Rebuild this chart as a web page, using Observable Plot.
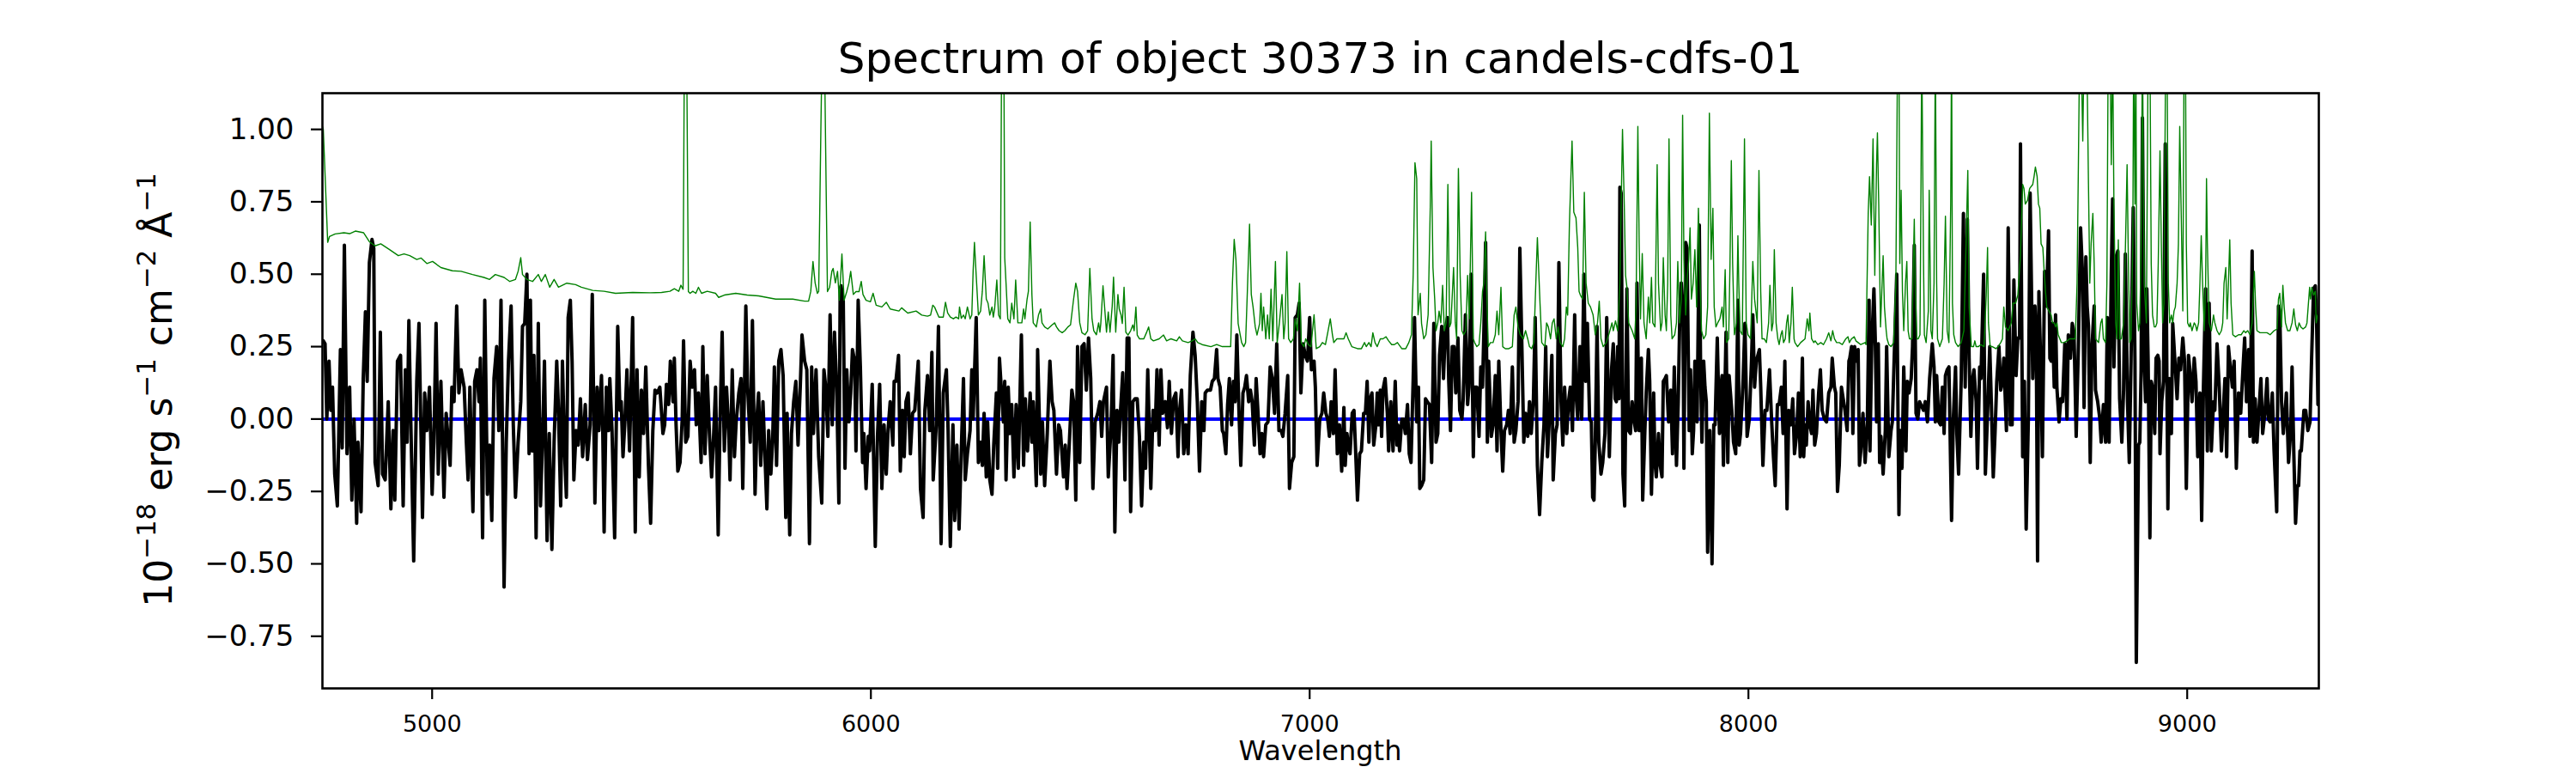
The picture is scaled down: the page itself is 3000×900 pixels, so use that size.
<!DOCTYPE html>
<html>
<head>
<meta charset="utf-8">
<script src="https://cdn.jsdelivr.net/npm/d3@7"></script>
<script src="https://cdn.jsdelivr.net/npm/@observablehq/plot@0.6"></script>
<style>
html,body{margin:0;padding:0;background:#fff;}
#wrap{position:relative;width:3000px;height:900px;font-family:"DejaVu Sans",sans-serif;color:#000;}
#chart{position:absolute;left:0;top:0;}
#title{position:absolute;left:1537.5px;top:43px;transform:translateX(-50%);font-size:50px;line-height:50px;white-space:nowrap;}
#xlabel{position:absolute;left:1537.5px;top:862px;transform:translateX(-50%);font-size:32px;line-height:24px;white-space:nowrap;}
#ylabel{position:absolute;left:185px;top:454px;transform:translate(-50%,-50%) rotate(-90deg);font-size:44px;line-height:44px;white-space:nowrap;}
#ylabel .sup{font-size:0.7em;vertical-align:19px;line-height:0;}
</style>
</head>
<body>
<div id="wrap">
<div id="chart"></div>
<div id="title">Spectrum of object 30373 in candels-cdfs-01</div>
<div id="ylabel">10<span class="sup">−18</span> erg s<span class="sup">−1</span> cm<span class="sup">−2</span> Å<span class="sup">−1</span></div>
<div id="xlabel">Wavelength</div>
</div>
<script>
const xTicks = [5000, 6000, 7000, 8000, 9000];
const yTicks = [-0.75, -0.5, -0.25, 0, 0.25, 0.5, 0.75, 1.0];
const xDomain = [4750, 9300];
const yDomain = [-0.93, 1.125];
const zeroLevel = [0];

// [wavelength, flux] (black)
const fluxSpectrum = [
[4750,0.27],[4752,0.27],[4756,0.26],[4760,0.00],[4765,0.20],[4769,0.03],[4773,0.11],[4778,-0.19],[4784,-0.30],[4791,0.24],[4795,-0.10],[4800,0.60],[4804,0.11],[4806,-0.12],[4812,0.11],[4817,-0.28],[4822,0.00],[4828,-0.36],[4831,-0.08],[4838,-0.32],[4843,0.14],[4848,0.37],[4852,0.13],[4857,0.54],[4863,0.62],[4867,0.59],[4870,-0.15],[4877,-0.23],[4882,0.30],[4887,-0.19],[4893,-0.21],[4900,0.06],[4906,-0.31],[4911,-0.04],[4915,-0.28],[4921,0.20],[4928,0.22],[4934,-0.30],[4939,0.17],[4943,-0.08],[4947,0.34],[4952,-0.05],[4958,-0.49],[4965,0.13],[4970,0.33],[4975,-0.08],[4978,-0.34],[4983,0.09],[4988,-0.04],[4994,0.11],[5000,-0.26],[5004,-0.08],[5009,0.33],[5014,-0.19],[5020,0.13],[5027,-0.27],[5032,0.02],[5037,-0.08],[5041,-0.16],[5045,0.11],[5050,0.06],[5056,0.39],[5061,0.09],[5066,0.17],[5073,0.11],[5078,-0.08],[5082,-0.21],[5086,0.11],[5093,-0.32],[5097,0.13],[5102,0.17],[5107,0.06],[5110,0.21],[5115,-0.41],[5120,0.41],[5126,-0.26],[5131,-0.09],[5136,-0.35],[5141,0.14],[5147,0.25],[5152,-0.04],[5157,0.41],[5164,-0.58],[5169,-0.08],[5174,0.20],[5180,0.39],[5185,-0.02],[5190,-0.27],[5196,-0.08],[5202,0.06],[5206,0.32],[5211,0.33],[5216,0.50],[5221,-0.12],[5224,0.41],[5228,-0.11],[5232,0.22],[5237,-0.41],[5242,0.33],[5247,-0.30],[5252,-0.05],[5256,0.20],[5262,-0.42],[5267,-0.05],[5273,-0.45],[5278,-0.08],[5284,0.20],[5288,0.03],[5293,-0.30],[5297,0.20],[5302,-0.12],[5306,-0.27],[5310,0.35],[5315,0.41],[5319,0.20],[5323,-0.21],[5328,-0.04],[5333,-0.09],[5338,0.07],[5343,-0.13],[5349,0.05],[5354,-0.14],
[5360,-0.02],[5365,0.43],[5371,-0.29],[5376,0.11],[5380,-0.04],[5386,0.15],[5389,-0.05],[5392,-0.39],[5397,0.11],[5402,-0.04],[5405,0.14],[5410,-0.04],[5416,-0.41],[5423,0.32],[5428,0.03],[5431,0.06],[5435,-0.13],[5439,-0.02],[5444,0.17],[5450,-0.11],[5457,0.35],[5463,-0.39],[5467,0.17],[5472,-0.20],[5477,0.10],[5482,-0.05],[5487,0.18],[5493,-0.16],[5498,-0.36],[5503,-0.04],[5508,0.10],[5513,0.09],[5519,0.11],[5526,-0.05],[5530,-0.02],[5534,0.12],[5539,0.05],[5543,0.20],[5549,0.06],[5552,0.21],[5556,-0.02],[5560,-0.18],[5565,-0.15],[5570,0.00],[5573,0.27],[5578,-0.08],[5583,-0.06],[5588,0.20],[5593,0.11],[5598,0.17],[5602,-0.02],[5607,0.09],[5613,-0.15],[5617,0.25],[5622,-0.12],[5627,0.15],[5632,-0.05],[5637,-0.20],[5641,-0.08],[5646,0.11],[5652,-0.40],[5656,-0.02],[5661,0.30],[5666,-0.11],[5671,0.11],[5676,-0.04],[5679,-0.21],[5684,0.17],[5689,-0.13],[5693,-0.01],[5699,0.09],[5704,0.14],[5708,-0.24],[5715,0.39],[5719,0.11],[5725,-0.08],[5730,0.34],[5736,-0.26],[5741,0.02],[5744,0.09],[5749,-0.16],[5754,0.06],[5763,-0.31],[5767,-0.04],[5772,-0.19],[5776,-0.08],[5780,0.18],[5785,-0.16],[5790,0.20],[5795,0.24],[5800,0.15],[5806,-0.34],[5809,0.02],[5815,-0.40],[5819,-0.05],[5824,0.06],[5829,0.13],[5834,-0.09],[5839,0.11],[5843,0.29],[5849,0.20],[5854,0.17],[5860,-0.43],[5865,0.18],[5869,-0.05],[5875,0.17],[5881,-0.13],[5888,-0.29],[5893,0.17],[5897,0.11],[5902,-0.06],[5907,0.36],[5912,-0.02],[5917,0.30],[5922,0.11],[5927,-0.29],[5930,0.45],
[5932,0.46],[5937,0.41],[5941,-0.17],[5945,0.17],[5950,-0.01],[5954,0.09],[5958,0.24],[5963,0.20],[5966,-0.11],[5971,0.41],[5976,0.18],[5981,-0.15],[5984,-0.05],[5989,-0.24],[5994,-0.06],[5997,-0.11],[6003,0.12],[6010,-0.44],[6015,-0.06],[6020,0.12],[6025,-0.24],[6030,-0.02],[6035,-0.19],[6039,-0.04],[6044,0.06],[6050,-0.09],[6053,0.13],[6057,0.13],[6063,0.22],[6067,-0.18],[6072,0.03],[6076,-0.13],[6080,0.06],[6085,0.09],[6090,-0.12],[6095,0.02],[6100,0.03],[6108,0.20],[6113,-0.24],[6119,-0.34],[6123,0.03],[6129,0.15],[6134,-0.04],[6139,0.23],[6142,-0.21],[6149,-0.02],[6154,0.32],[6160,-0.43],[6165,0.09],[6172,0.17],[6176,-0.04],[6181,-0.44],[6187,-0.02],[6191,-0.35],[6196,-0.09],[6201,-0.38],[6206,-0.11],[6211,0.14],[6215,-0.21],[6220,-0.12],[6226,-0.04],[6230,0.17],[6233,0.00],[6240,0.35],[6245,-0.15],[6250,-0.08],[6254,-0.16],[6258,0.02],[6263,-0.20],[6266,-0.01],[6271,-0.21],[6276,-0.26],[6280,-0.09],[6286,0.09],[6289,-0.17],[6293,0.21],[6297,0.11],[6302,-0.01],[6305,0.13],[6308,-0.21],[6313,0.11],[6317,-0.05],[6321,0.05],[6326,-0.20],[6331,0.05],[6336,-0.17],[6343,0.29],[6348,-0.16],[6352,0.07],[6357,-0.11],[6363,0.09],[6367,-0.08],[6370,0.06],[6377,-0.23],[6380,0.24],[6387,-0.19],[6391,-0.01],[6396,-0.23],[6402,-0.05],[6408,0.20],[6413,0.06],[6417,0.03],[6423,-0.19],[6428,-0.02],[6432,-0.04],[6439,-0.20],[6443,-0.09],[6447,-0.24],[6452,-0.09],[6458,0.10],[6462,0.06],[6467,-0.28],[6471,0.25],[6476,-0.15],[6481,0.25],[6486,0.26],[6491,0.10],[6496,0.28],[6501,0.14],[6506,-0.24],[6511,-0.01],[6517,0.02],
[6522,0.06],[6526,-0.06],[6530,0.06],[6537,0.11],[6541,-0.20],[6547,-0.04],[6552,0.22],[6556,-0.39],[6561,0.03],[6565,-0.08],[6569,0.03],[6574,0.16],[6579,-0.21],[6584,0.28],[6588,0.28],[6592,-0.32],[6597,0.06],[6602,0.07],[6607,0.07],[6612,-0.06],[6617,-0.30],[6622,-0.08],[6626,-0.17],[6631,0.17],[6638,-0.24],[6643,0.03],[6648,-0.04],[6652,0.17],[6657,-0.09],[6661,0.17],[6665,0.02],[6671,0.06],[6676,-0.03],[6680,0.13],[6685,-0.05],[6690,0.07],[6695,0.09],[6700,-0.13],[6703,0.02],[6708,0.10],[6713,-0.12],[6718,-0.02],[6723,-0.12],[6728,0.15],[6734,0.30],[6739,0.22],[6744,0.06],[6749,-0.18],[6754,0.06],[6759,-0.04],[6762,0.09],[6767,0.10],[6774,0.10],[6778,0.13],[6783,0.14],[6788,0.24],[6791,0.14],[6796,0.11],[6801,-0.04],[6804,-0.05],[6809,-0.12],[6813,0.05],[6817,0.14],[6822,-0.02],[6826,0.13],[6830,0.06],[6834,0.29],[6839,0.02],[6843,-0.16],[6848,0.09],[6852,0.11],[6856,0.15],[6861,0.06],[6865,0.10],[6869,0.06],[6874,-0.09],[6878,0.14],[6882,0.03],[6887,-0.12],[6891,-0.05],[6895,-0.13],[6900,-0.02],[6905,-0.01],[6910,0.18],[6915,0.14],[6920,0.02],[6925,0.26],[6930,-0.04],[6935,-0.04],[6939,-0.06],[6944,0.02],[6950,0.15],[6954,-0.24],[6959,-0.15],[6964,-0.13],[6967,0.35],[6972,0.36],[6976,0.40],[6980,0.09],[6985,0.26],[6990,0.22],[6995,0.20],[7000,0.35],[7004,0.17],[7010,0.20],[7013,0.11],[7017,-0.16],[7023,0.00],[7028,0.02],[7032,0.09],[7037,0.02],[7041,0.00],[7045,-0.06],[7049,0.06],[7054,-0.05],[7058,0.17],[7063,-0.12],[7068,-0.02],[7073,-0.18],[7078,0.04],[7081,-0.16],[7085,-0.05],[7088,-0.09],
[7092,-0.12],[7097,0.02],[7101,0.03],[7105,-0.12],[7109,-0.28],[7114,-0.12],[7118,-0.11],[7123,0.02],[7127,0.02],[7131,0.13],[7135,-0.08],[7138,0.07],[7142,0.09],[7146,-0.09],[7151,-0.02],[7154,0.09],[7157,-0.02],[7161,0.10],[7164,-0.06],[7167,0.10],[7172,0.14],[7177,0.02],[7180,-0.11],[7185,0.06],[7190,-0.11],[7195,0.13],[7199,-0.09],[7201,-0.02],[7205,-0.11],[7210,0.00],[7214,0.00],[7218,-0.05],[7223,0.05],[7227,-0.12],[7231,-0.15],[7236,0.14],[7239,0.35],[7244,-0.01],[7248,0.11],[7251,-0.24],[7255,-0.23],[7260,-0.21],[7264,0.07],[7268,0.06],[7273,0.05],[7278,-0.15],[7283,0.33],[7288,-0.08],[7292,-0.05],[7296,0.22],[7301,0.32],[7305,0.14],[7309,0.30],[7314,0.35],[7317,0.13],[7321,-0.04],[7325,0.25],[7329,0.25],[7333,0.09],[7338,0.28],[7342,0.03],[7347,0.00],[7350,0.07],[7355,0.36],[7360,0.05],[7363,0.11],[7368,0.50],[7373,-0.13],[7376,0.11],[7381,0.11],[7386,-0.06],[7390,0.18],[7394,0.11],[7397,0.30],[7401,0.61],[7405,-0.08],[7408,0.20],[7414,-0.06],[7418,-0.02],[7423,0.15],[7427,-0.11],[7431,0.20],[7436,-0.04],[7440,-0.18],[7444,-0.04],[7449,-0.02],[7453,0.03],[7457,-0.05],[7462,0.18],[7466,-0.08],[7470,-0.04],[7475,0.06],[7479,0.59],[7483,0.30],[7488,-0.08],[7492,0.02],[7497,-0.06],[7501,0.06],[7505,-0.05],[7510,0.07],[7514,0.35],[7519,-0.16],[7524,-0.33],[7529,-0.15],[7534,-0.02],[7538,0.25],[7542,-0.13],[7547,0.02],[7552,0.22],[7555,-0.21],[7560,-0.05],[7564,-0.02],[7568,0.54],[7573,0.06],[7577,-0.09],[7581,0.11],[7586,-0.05],[7590,0.06],[7594,0.11],[7599,-0.04],[7604,0.36],[7607,0.09],[7611,0.00],[7616,0.25],[7620,0.00],[7625,0.50],[7629,0.13],[7633,0.33],[7638,0.00],[7642,-0.01],[7645,-0.27],[7648,-0.28],[7651,-0.08],[7655,0.32],[7659,-0.08],[7664,-0.19],[7668,-0.15],[7673,-0.05],[7677,0.35],
[7683,-0.13],[7688,0.17],[7692,0.26],[7696,0.07],[7699,0.06],[7702,0.25],[7705,0.07],[7707,0.80],[7710,0.78],[7714,-0.19],[7718,-0.30],[7723,0.45],[7727,-0.04],[7731,-0.05],[7735,0.06],[7739,0.00],[7743,-0.04],[7746,0.47],[7751,-0.04],[7756,0.21],[7759,-0.28],[7764,-0.04],[7767,0.09],[7772,0.24],[7775,0.13],[7779,-0.26],[7784,0.09],[7787,-0.15],[7790,-0.20],[7795,-0.05],[7799,-0.16],[7803,-0.20],[7806,0.13],[7810,0.14],[7813,0.15],[7818,-0.01],[7823,0.10],[7827,-0.12],[7831,0.18],[7836,-0.16],[7840,0.06],[7844,0.39],[7847,0.47],[7851,0.33],[7853,-0.17],[7857,0.61],[7860,0.59],[7865,-0.04],[7868,0.17],[7872,-0.12],[7875,-0.04],[7878,0.20],[7883,-0.01],[7888,0.67],[7891,0.17],[7894,-0.08],[7898,0.20],[7901,0.11],[7904,0.06],[7907,-0.46],[7912,-0.04],[7917,-0.50],[7921,-0.02],[7924,-0.02],[7929,0.28],[7934,-0.05],[7937,0.11],[7940,0.15],[7943,-0.16],[7949,0.30],[7953,-0.15],[7956,0.15],[7962,0.03],[7966,-0.08],[7971,-0.12],[7976,0.41],[7979,-0.09],[7982,-0.05],[7988,0.14],[7992,0.33],[7997,-0.06],[8002,0.00],[8007,0.20],[8010,0.36],[8014,0.11],[8018,0.20],[8025,0.24],[8028,0.11],[8033,-0.16],[8038,0.03],[8042,0.03],[8048,0.17],[8053,-0.01],[8057,-0.13],[8061,-0.23],[8066,0.05],[8070,0.05],[8075,0.11],[8079,-0.05],[8083,0.20],[8088,-0.31],[8092,0.03],[8097,-0.02],[8101,0.07],[8105,-0.12],[8110,-0.05],[8114,0.09],[8118,-0.13],[8123,0.21],[8126,-0.13],[8129,-0.02],[8132,-0.09],[8136,0.06],[8140,-0.02],[8144,-0.05],[8147,0.10],[8151,-0.09],[8155,-0.05],[8160,0.09],[8164,0.17],[8168,0.03],[8173,0.00],[8178,-0.01],[8183,0.09],[8188,0.11],[8191,0.21],[8196,0.11],[8199,0.09],[8203,-0.25],[8207,-0.16],[8212,0.11],[8216,0.07],[8220,0.03],[8225,-0.04],[8229,0.20],[8231,0.21],[8235,0.25],[8238,-0.05],[8242,0.25],[8246,0.20],[8250,0.24],[8253,-0.16],[8256,-0.11],[8261,0.02],[8266,-0.15],[8271,-0.01],[8275,0.41],
[8277,-0.11],[8281,0.25],[8286,0.45],[8289,0.28],[8292,-0.01],[8296,0.26],[8299,-0.15],[8302,-0.06],[8307,-0.19],[8312,-0.04],[8315,0.25],[8320,-0.13],[8325,-0.04],[8328,-0.01],[8333,0.25],[8338,0.50],[8343,-0.33],[8346,-0.04],[8350,-0.17],[8354,0.18],[8359,-0.11],[8362,0.13],[8366,0.09],[8371,0.14],[8374,0.25],[8378,0.60],[8382,0.02],[8386,0.00],[8390,0.06],[8393,0.05],[8399,0.03],[8403,0.06],[8408,-0.01],[8413,0.14],[8419,0.26],[8423,0.18],[8426,-0.01],[8429,0.15],[8434,-0.01],[8438,-0.02],[8442,0.11],[8446,-0.05],[8449,0.15],[8453,0.17],[8457,0.18],[8463,-0.35],[8467,0.00],[8472,0.18],[8475,-0.05],[8479,-0.19],[8485,0.14],[8490,0.71],[8494,0.11],[8499,0.69],[8503,0.21],[8507,-0.06],[8511,0.14],[8514,0.17],[8519,0.06],[8522,-0.17],[8527,0.18],[8530,0.14],[8536,0.50],[8540,-0.19],[8545,0.02],[8550,0.25],[8553,0.09],[8558,-0.20],[8562,-0.05],[8566,0.13],[8571,0.25],[8575,0.10],[8579,0.13],[8582,0.21],[8588,-0.04],[8592,0.66],[8597,-0.02],[8601,-0.02],[8605,0.48],[8610,0.15],[8614,0.28],[8618,0.28],[8620,0.95],[8625,-0.13],[8629,0.13],[8633,-0.38],[8638,0.00],[8642,0.78],[8648,0.14],[8653,0.39],[8656,0.28],[8659,-0.49],[8662,0.44],[8666,0.20],[8670,-0.13],[8675,0.51],[8679,0.39],[8684,0.65],[8687,0.21],[8690,0.20],[8693,0.33],[8697,0.11],[8700,0.36],[8703,0.11],[8708,-0.01],[8712,0.07],[8716,0.06],[8721,0.26],[8726,0.00],[8729,0.29],[8734,0.21],[8738,0.33],[8742,0.30],[8747,-0.06],[8752,0.25],[8757,0.66],[8762,0.48],[8765,0.04],[8769,0.56],[8772,0.39],[8775,0.32],[8779,-0.15],[8783,0.25],[8788,0.39],[8791,0.10],[8796,0.06],[8801,0.00],[8804,-0.08],[8809,0.05],[8814,-0.08],[8818,0.35],[8822,-0.08],[8827,0.50],[8830,0.76],
[8833,0.18],[8838,0.56],[8842,0.58],[8846,0.07],[8851,-0.08],[8855,0.10],[8859,0.57],[8864,0.06],[8868,-0.15],[8872,0.20],[8877,0.73],[8881,0.20],[8884,-0.84],[8889,-0.09],[8892,-0.08],[8895,0.17],[8898,1.04],[8902,0.20],[8905,0.06],[8908,0.45],[8911,0.20],[8915,-0.41],[8918,0.13],[8921,0.11],[8926,-0.05],[8929,0.21],[8933,0.22],[8936,0.20],[8938,-0.12],[8942,0.06],[8946,0.13],[8950,0.95],[8953,0.29],[8956,-0.31],[8959,0.14],[8964,-0.05],[8967,0.33],[8972,0.20],[8977,0.07],[8981,0.21],[8985,0.17],[8990,0.28],[8994,0.20],[8998,-0.24],[9003,0.22],[9006,0.17],[9011,0.06],[9016,0.21],[9020,0.13],[9024,-0.13],[9029,0.09],[9033,-0.35],[9037,0.11],[9042,0.45],[9046,-0.11],[9050,0.40],[9055,-0.11],[9060,0.06],[9063,0.03],[9068,0.26],[9073,0.11],[9078,-0.11],[9083,0.05],[9086,0.14],[9090,-0.13],[9094,0.25],[9097,0.20],[9103,0.11],[9107,0.20],[9112,-0.17],[9117,0.09],[9122,0.02],[9127,0.17],[9131,0.28],[9135,0.06],[9140,0.24],[9143,-0.06],[9148,0.58],[9151,-0.08],[9155,0.07],[9159,-0.08],[9164,0.04],[9168,0.14],[9172,-0.05],[9177,0.02],[9182,0.14],[9185,0.00],[9189,-0.01],[9194,0.09],[9198,-0.11],[9204,-0.32],[9208,0.39],[9211,0.37],[9215,0.06],[9219,-0.05],[9223,0.02],[9226,0.09],[9231,-0.15],[9236,-0.04],[9239,0.18],[9243,-0.12],[9247,-0.36],[9251,-0.23],[9254,-0.23],[9257,-0.11],[9260,-0.11],[9266,0.03],[9270,0.03],[9275,-0.04],[9280,-0.01],[9283,0.18],[9288,0.45],[9292,0.46],[9295,0.33],[9298,0.05]
];

// [wavelength, noise] (green)
const noiseSpectrum = [
[4750,1.01],[4752,1.0],[4762,0.61],[4766,0.63],[4779,0.639],[4799,0.643],[4812,0.64],[4825,0.649],[4844,0.643],[4857,0.612],[4870,0.598],[4883,0.605],[4903,0.585],[4923,0.564],[4936,0.57],[4949,0.564],[4965,0.551],[4975,0.556],[4988,0.537],[5001,0.544],[5020,0.523],[5046,0.512],[5066,0.51],[5092,0.499],[5118,0.489],[5131,0.482],[5144,0.499],[5164,0.489],[5177,0.475],[5190,0.482],[5196,0.51],[5202,0.557],[5206,0.499],[5216,0.482],[5229,0.475],[5242,0.499],[5249,0.475],[5258,0.499],[5268,0.455],[5278,0.482],[5288,0.455],[5307,0.469],[5327,0.464],
[5340,0.455],[5366,0.444],[5392,0.441],[5418,0.434],[5457,0.437],[5497,0.436],[5523,0.437],[5542,0.441],[5552,0.45],[5562,0.441],[5567,0.462],[5572,0.448],[5575,1.3],[5580,1.3],[5584,0.44],[5588,0.434],[5594,0.441],[5601,0.434],[5607,0.455],[5614,0.434],[5627,0.441],[5646,0.434],[5653,0.42],[5666,0.428],[5692,0.434],[5718,0.428],[5744,0.425],[5783,0.414],[5822,0.414],[5849,0.407],[5858,0.407],[5863,0.441],[5868,0.544],[5873,0.469],[5878,0.434],[5881,0.441],[5886,1.0],[5889,1.3],[5894,1.3],[5897,0.92],[5901,0.44],[5906,0.455],[5911,0.51],
[5914,0.52],[5919,0.47],[5924,0.51],[5928,0.41],[5934,0.57],[5939,0.41],[5945,0.44],[5950,0.47],[5954,0.51],[5960,0.43],[5966,0.44],[5973,0.44],[5978,0.475],[5982,0.43],[5989,0.41],[5999,0.405],[6005,0.434],[6012,0.393],[6025,0.387],[6035,0.403],[6044,0.38],[6064,0.373],[6070,0.384],[6084,0.366],[6103,0.373],[6116,0.359],[6129,0.355],[6136,0.359],[6141,0.393],[6145,0.387],[6155,0.352],[6165,0.352],[6170,0.403],[6175,0.366],[6181,0.352],[6188,0.346],[6194,0.352],[6200,0.346],[6202,0.387],[6206,0.348],[6211,0.359],[6215,0.346],[6220,0.387],[6226,0.346],[6230,0.359],[6233,0.51],[6236,0.61],[6240,0.496],[6245,0.359],[6250,0.373],[6254,0.441],[6258,0.564],[6263,0.414],[6267,0.40],[6271,0.359],[6276,0.387],[6279,0.352],[6282,0.38],[6287,0.48],[6291,0.359],[6295,0.346],[6298,1.3],[6303,1.3],[6305,0.557],[6308,0.469],[6312,0.346],[6317,0.332],[6321,0.40],[6326,0.346],[6330,0.48],[6335,0.332],[6339,0.332],[6344,0.332],[6348,0.38],[6351,0.346],[6356,0.414],[6359,0.441],[6363,0.68],[6367,0.428],[6370,0.332],[6377,0.318],[6382,0.359],[6387,0.38],[6390,0.332],[6396,0.318],[6403,0.311],[6413,0.325],[6419,0.332],[6423,0.318],[6429,0.305],[6436,0.298],[6442,0.305],[6449,0.318],[6455,0.325],[6462,0.414],[6467,0.469],[6471,0.441],[6476,0.332],[6481,0.298],[6488,0.291],[6494,0.305],[6499,0.52],[6504,0.346],[6508,0.305],[6514,0.291],[6519,0.332],
[6522,0.30],[6524,0.33],[6529,0.46],[6537,0.30],[6541,0.37],[6545,0.30],[6550,0.39],[6553,0.49],[6558,0.30],[6563,0.43],[6566,0.38],[6570,0.36],[6573,0.33],[6577,0.455],[6581,0.30],[6586,0.29],[6592,0.305],[6597,0.325],[6600,0.305],[6604,0.387],[6607,0.29],[6612,0.277],[6622,0.277],[6628,0.298],[6633,0.318],[6638,0.277],[6644,0.27],[6657,0.277],[6667,0.29],[6674,0.27],[6684,0.277],[6697,0.27],[6703,0.284],[6710,0.27],[6723,0.264],[6732,0.27],[6739,0.277],[6745,0.264],[6755,0.257],[6775,0.25],[6788,0.257],[6801,0.25],[6820,0.25],[6824,0.47],[6828,0.62],[6832,0.55],[6837,0.33],[6840,0.305],[6845,0.264],[6850,0.25],[6854,0.264],[6858,0.44],[6863,0.673],[6867,0.43],[6871,0.387],[6876,0.318],[6880,0.29],[6886,0.33],[6889,0.434],[6892,0.305],[6895,0.387],[6900,0.277],[6904,0.359],[6908,0.277],[6912,0.448],[6916,0.27],[6922,0.544],[6926,0.264],[6931,0.332],[6937,0.43],[6941,0.277],[6944,0.332],[6948,0.578],[6952,0.277],[6957,0.264],[6963,0.277],[6967,0.346],[6972,0.305],[6977,0.469],[6981,0.264],[6987,0.25],[6991,0.277],[6997,0.257],[7003,0.25],[7010,0.36],[7015,0.243],[7023,0.25],[7029,0.264],[7036,0.257],[7042,0.305],[7047,0.346],[7052,0.29],[7055,0.264],[7062,0.277],[7071,0.277],[7078,0.277],[7083,0.298],[7088,0.277],
[7096,0.25],[7109,0.243],[7118,0.243],[7125,0.264],[7129,0.25],[7135,0.264],[7140,0.25],[7144,0.298],[7149,0.264],[7154,0.25],[7161,0.277],[7167,0.277],[7174,0.284],[7180,0.27],[7187,0.257],[7193,0.257],[7200,0.264],[7210,0.243],[7219,0.243],[7226,0.264],[7232,0.291],[7236,0.50],[7240,0.885],[7244,0.83],[7247,0.36],[7252,0.434],[7255,0.33],[7260,0.277],[7265,0.291],[7270,0.36],[7275,0.742],[7277,0.96],[7281,0.523],[7285,0.414],[7288,0.305],[7292,0.332],[7295,0.373],[7299,0.332],[7303,0.462],[7307,0.305],[7311,0.332],[7315,0.81],[7319,0.318],[7322,0.332],[7328,0.523],[7332,0.332],[7335,0.277],[7339,0.865],[7343,0.496],[7347,0.305],[7351,0.291],[7356,0.305],[7360,0.496],[7364,0.346],[7369,0.783],[7373,0.277],[7376,0.264],[7381,0.25],[7386,0.257],[7390,0.332],[7394,0.441],[7397,0.469],[7401,0.646],[7403,0.469],[7407,0.25],[7412,0.264],[7418,0.264],[7423,0.291],[7427,0.373],[7431,0.291],[7436,0.455],[7440,0.25],[7446,0.243],[7454,0.243],[7462,0.25],[7466,0.359],[7470,0.387],[7475,0.318],[7480,0.291],[7487,0.277],[7492,0.305],[7497,0.277],[7501,0.25],[7506,0.243],[7511,0.264],[7516,0.496],[7519,0.626],[7525,0.40],[7529,0.264],[7536,0.25],[7540,0.332],[7544,0.318],[7549,0.277],[7553,0.332],[7557,0.346],[7562,0.277],[7566,0.318],[7571,0.264],[7577,0.25],[7581,0.277],[7585,0.387],[7588,0.359],[7592,0.673],[7598,0.96],[7602,0.714],[7607,0.694],[7611,0.592],[7614,0.441],[7617,0.428],[7622,0.414],[7626,0.783],[7630,0.469],[7635,0.40],[7640,0.387],[7646,0.359],[7651,0.291],[7656,0.332],[7660,0.407],[7664,0.277],[7669,0.25],[7676,0.264],
[7683,0.298],[7689,0.332],[7692,0.305],[7697,0.339],[7702,0.305],[7707,0.469],[7710,0.742],[7713,1.0],[7717,0.742],[7720,0.496],[7723,0.455],[7727,0.332],[7735,0.305],[7741,0.277],[7744,0.40],[7748,1.01],[7751,0.605],[7754,0.346],[7758,0.571],[7762,0.332],[7767,0.277],[7772,0.421],[7775,0.332],[7779,0.489],[7782,0.332],[7787,0.318],[7792,0.878],[7795,0.469],[7800,0.305],[7803,0.332],[7806,0.557],[7810,0.359],[7813,0.305],[7816,0.469],[7819,0.967],[7823,0.359],[7826,0.277],[7832,0.291],[7836,0.332],[7839,0.544],[7843,0.332],[7847,0.414],[7850,1.049],[7853,0.551],[7857,0.359],[7861,0.496],[7864,0.551],[7867,0.66],[7870,0.414],[7874,0.469],[7878,0.585],[7882,0.387],[7886,0.728],[7890,0.469],[7893,0.305],[7898,0.277],[7903,0.291],[7907,0.387],[7911,1.056],[7915,0.551],[7919,0.728],[7922,0.387],[7926,0.318],[7930,0.332],[7935,0.346],[7940,0.387],[7943,0.318],[7947,0.516],[7950,0.264],[7955,0.277],[7958,0.537],[7961,0.892],[7964,0.537],[7968,0.291],[7973,0.332],[7976,0.633],[7978,0.469],[7981,0.305],[7986,0.291],[7991,0.967],[7995,0.332],[7999,0.291],[8005,0.277],[8010,0.544],[8014,0.414],[8016,0.387],[8020,0.332],[8024,0.858],[8028,0.441],[8031,0.277],[8036,0.277],[8041,0.264],[8046,0.332],[8049,0.462],[8053,0.305],[8056,0.332],[8059,0.585],[8063,0.332],[8067,0.277],[8070,0.257],[8074,0.291],[8077,0.305],[8080,0.264],[8084,0.277],[8087,0.332],[8090,0.359],[8093,0.264],[8097,0.332],[8100,0.455],[8104,0.277],[8106,0.264],[8112,0.25],[8119,0.264],[8129,0.277],[8134,0.346],[8138,0.305],[8140,0.366],[8144,0.277],[8149,0.264],[8152,0.27],[8158,0.257],[8165,0.264],[8171,0.257],[8178,0.277],[8183,0.298],[8188,0.27],[8192,0.305],[8196,0.277],[8201,0.264],[8207,0.264],[8214,0.257],[8222,0.277],[8227,0.284],[8230,0.264],[8235,0.277],[8241,0.284],[8245,0.27],[8250,0.264],[8256,0.257],[8266,0.264],
[8268,0.257],[8273,0.71],[8276,0.837],[8280,0.67],[8284,0.967],[8288,0.496],[8292,0.878],[8294,0.988],[8297,0.742],[8301,0.318],[8303,0.40],[8307,0.564],[8310,0.387],[8314,0.305],[8316,0.277],[8320,0.257],[8325,0.25],[8331,0.264],[8336,0.469],[8340,1.3],[8343,1.3],[8345,0.537],[8348,0.79],[8351,0.441],[8354,0.305],[8358,0.469],[8361,0.544],[8364,0.305],[8367,0.277],[8373,0.277],[8375,0.469],[8378,0.69],[8380,0.469],[8384,0.277],[8387,0.277],[8391,0.291],[8393,0.742],[8395,1.3],[8399,0.551],[8401,0.291],[8405,0.264],[8410,0.373],[8412,0.79],[8416,0.305],[8419,0.277],[8423,0.469],[8426,1.3],[8429,0.469],[8431,0.277],[8436,0.25],[8442,0.277],[8446,0.469],[8449,0.70],[8453,0.305],[8457,0.264],[8461,0.742],[8463,1.3],[8465,0.40],[8468,0.291],[8472,0.264],[8478,0.25],[8485,0.264],[8491,0.305],[8496,0.605],[8500,0.858],[8503,0.387],[8508,0.25],[8513,0.25],[8516,0.27],[8519,0.25],[8524,0.25],[8530,0.257],[8537,0.25],[8542,0.428],[8545,0.592],[8547,0.332],[8551,0.25],[8556,0.25],[8564,0.243],[8569,0.25],[8575,0.264],[8579,0.277],[8582,0.387],[8586,0.318],[8592,0.305],[8599,0.332],[8603,0.40],[8609,0.40],[8614,0.428],[8620,0.564],[8625,0.81],[8628,0.796],[8631,0.742],[8636,0.755],[8641,0.796],[8648,0.81],[8651,0.837],[8654,0.87],[8658,0.837],[8661,0.742],[8664,0.728],[8667,0.605],[8671,0.592],[8674,0.51],[8677,0.441],[8680,0.387],[8685,0.373],[8690,0.359],[8693,0.332],[8697,0.332],[8700,0.318],[8703,0.332],[8706,0.291],[8713,0.264],[8719,0.264],[8726,0.27],[8732,0.277],[8739,0.277],[8745,0.277],[8749,0.469],[8752,0.878],[8755,1.3],[8758,1.3],[8762,0.96],[8765,1.3],[8768,1.3],[8771,1.3],[8775,0.81],[8778,0.469],[8781,0.605],[8785,0.71],[8788,0.537],[8791,0.277],[8798,0.264],[8803,0.332],[8806,0.346],[8809,0.277],[8814,0.264],[8817,0.469],[8820,1.3],[8824,1.3],[8827,0.878],[8830,1.3],
[8833,0.742],[8837,0.332],[8840,0.277],[8843,0.619],[8846,0.277],[8850,0.277],[8855,0.332],[8859,0.578],[8863,0.878],[8866,0.537],[8869,0.264],[8872,0.277],[8876,0.605],[8878,1.3],[8881,0.742],[8883,1.3],[8885,0.40],[8889,0.305],[8892,0.332],[8895,0.605],[8898,1.3],[8902,0.469],[8907,0.332],[8911,1.3],[8915,1.3],[8918,0.537],[8921,0.359],[8925,0.318],[8928,0.318],[8931,0.332],[8934,0.537],[8938,0.926],[8941,0.605],[8944,0.332],[8947,0.40],[8951,1.3],[8954,1.3],[8957,0.469],[8960,0.332],[8964,0.359],[8967,0.332],[8970,0.373],[8973,0.387],[8977,0.469],[8980,0.605],[8983,1.01],[8986,0.742],[8990,0.373],[8993,1.3],[8996,1.3],[8998,0.605],[9001,0.332],[9005,0.318],[9007,0.332],[9011,0.305],[9016,0.332],[9019,0.325],[9022,0.305],[9026,0.332],[9029,0.469],[9032,0.633],[9035,0.469],[9039,0.305],[9042,0.469],[9044,0.83],[9046,0.605],[9050,0.332],[9055,0.305],[9060,0.359],[9063,0.332],[9068,0.305],[9073,0.291],[9078,0.305],[9081,0.332],[9084,0.469],[9088,0.523],[9091,0.346],[9094,0.469],[9097,0.619],[9100,0.40],[9104,0.291],[9110,0.284],[9117,0.291],[9123,0.291],[9129,0.305],[9133,0.298],[9138,0.305],[9143,0.291],[9148,0.332],[9153,0.51],[9156,0.387],[9159,0.305],[9166,0.298],[9172,0.298],[9182,0.298],[9189,0.291],[9198,0.305],[9205,0.311],[9208,0.414],[9211,0.434],[9215,0.318],[9218,0.462],[9221,0.387],[9224,0.332],[9229,0.305],[9234,0.305],[9239,0.332],[9243,0.38],[9247,0.325],[9251,0.305],[9255,0.332],[9259,0.318],[9264,0.311],[9270,0.318],[9273,0.332],[9279,0.455],[9281,0.414],[9284,0.455],[9288,0.428],[9292,0.441],[9294,0.332],[9297,0.359],[9300,0.36]
];

const chart = Plot.plot({
  width: 3000,
  height: 900,
  marginLeft: 375,
  marginRight: 300,
  marginTop: 108,
  marginBottom: 99,
  style: {fontFamily: '"DejaVu Sans", sans-serif', color: "black", background: "white", overflow: "visible"},
  x: {domain: xDomain},
  y: {domain: yDomain},
  marks: [
    Plot.ruleY(zeroLevel, {stroke: "blue", strokeWidth: 4}),
    Plot.line(fluxSpectrum, {x: d => d[0], y: d => d[1], stroke: "black", strokeWidth: 4, clip: true}),
    Plot.line(noiseSpectrum, {x: d => d[0], y: d => d[1], stroke: "green", strokeWidth: 1.4, clip: true}),
    Plot.frame({stroke: "black", strokeWidth: 2.6}),
    Plot.axisX({ticks: xTicks, tickFormat: d3.format("d"), tickSize: 13, tickPadding: 18, fontSize: 27, strokeWidth: 2.2, label: null}),
    Plot.axisY({ticks: yTicks, tickFormat: d3.format(".2f"), tickSize: 13, tickPadding: 20, fontSize: 34, strokeWidth: 2.2, label: null})
  ]
});
document.getElementById("chart").appendChild(chart);
</script>
</body>
</html>
